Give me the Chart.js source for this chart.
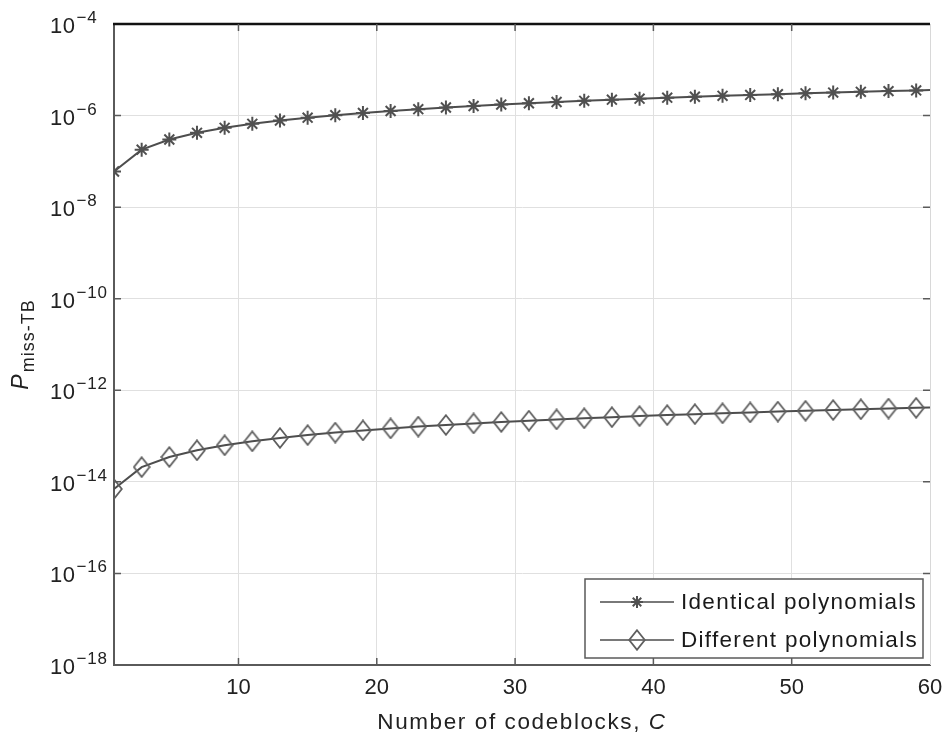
<!DOCTYPE html>
<html>
<head>
<meta charset="utf-8">
<script src="https://cdn.jsdelivr.net/npm/chart.js@4.4.1/dist/chart.umd.min.js"></script>
<style>
  html, body { margin: 0; padding: 0; background: #ffffff; }
  #wrap { width: 945px; height: 740px; }
</style>
</head>
<body>
<div id="wrap"><canvas id="c" width="945" height="740"></canvas></div>
<script>
// ---- data ----
const codeblocks = [1, 3, 5, 7, 9, 11, 13, 15, 17, 19, 21, 23, 25, 27, 29, 31, 33, 35, 37, 39, 41, 43, 45, 47, 49, 51, 53, 55, 57, 59, 60];
const identicalPoly = [6.0e-8, 1.8e-7, 3.0e-7, 4.2e-7, 5.4e-7, 6.6e-7, 7.8e-7, 9.0e-7, 1.02e-6, 1.14e-6,
  1.26e-6, 1.38e-6, 1.5e-6, 1.62e-6, 1.74e-6, 1.86e-6, 1.98e-6, 2.1e-6, 2.22e-6, 2.34e-6,
  2.46e-6, 2.58e-6, 2.7e-6, 2.82e-6, 2.94e-6, 3.06e-6, 3.18e-6, 3.3e-6, 3.42e-6, 3.54e-6, 3.6e-6];
const differentPoly = [7.0e-15, 2.1e-14, 3.5e-14, 4.9e-14, 6.3e-14, 7.7e-14, 9.1e-14, 1.05e-13, 1.19e-13, 1.33e-13,
  1.47e-13, 1.61e-13, 1.75e-13, 1.89e-13, 2.03e-13, 2.17e-13, 2.31e-13, 2.45e-13, 2.59e-13, 2.73e-13,
  2.87e-13, 3.01e-13, 3.15e-13, 3.29e-13, 3.43e-13, 3.57e-13, 3.71e-13, 3.85e-13, 3.99e-13, 4.13e-13, 4.2e-13];
const markerShown = [1, 1, 1, 1, 1, 1, 1, 1, 1, 1, 1, 1, 1, 1, 1, 1, 1, 1, 1, 1, 1, 1, 1, 1, 1, 1, 1, 1, 1, 1, 0];
const seriesNames = ['Identical polynomials', 'Different polynomials'];
const xTicks = [10, 20, 30, 40, 50, 60];
const yExponents = [-18, -16, -14, -12, -10, -8, -6, -4];
const xTitle = 'Number of codeblocks, ';
const xTitleItalic = 'C';
const yTitleMain = 'P';
const yTitleSub = 'miss-TB';

// ---- styles ----
const FONT = '"Liberation Sans", Arial, Helvetica, sans-serif';
const LINE_COLOR = '#4d4d4d';
const MARK_COLOR = '#505050';
const GRID_COLOR = '#e0e0e0';
const AXIS_COLOR = '#5a5a5a';

// tall diamond marker
function makeDiamond(w, h, color, lw) {
  const cv = document.createElement('canvas');
  cv.width = w; cv.height = h;
  const c = cv.getContext('2d');
  c.strokeStyle = color; c.lineWidth = lw;
  c.beginPath();
  c.moveTo(w / 2, 1.2);
  c.lineTo(w - 1.2, h / 2);
  c.lineTo(w / 2, h - 1.2);
  c.lineTo(1.2, h / 2);
  c.closePath();
  c.stroke();
  return cv;
}
const diamondImg = makeDiamond(18, 22, '#5f5f5f', 1.8);

const ptsIdentical = codeblocks.map((x, i) => ({ x: x, y: identicalPoly[i] }));
const ptsDifferent = codeblocks.map((x, i) => ({ x: x, y: differentPoly[i] }));

const decorations = {
  id: 'decorations',
  afterDraw(chart) {
    const ctx = chart.ctx;
    const area = chart.chartArea;
    const xs = chart.scales.x, ys = chart.scales.y;
    ctx.save();

    // top border (black)
    ctx.strokeStyle = '#111111';
    ctx.lineWidth = 2.5;
    ctx.beginPath();
    ctx.moveTo(area.left - 1, area.top);
    ctx.lineTo(area.right, area.top);
    ctx.stroke();

    // right border
    ctx.strokeStyle = '#d8d8d8';
    ctx.lineWidth = 1;
    ctx.beginPath();
    ctx.moveTo(area.right + 0.5, area.top);
    ctx.lineTo(area.right + 0.5, area.bottom);
    ctx.stroke();

    // inward tick marks
    ctx.strokeStyle = AXIS_COLOR;
    ctx.lineWidth = 1.5;
    const tl = 7;
    xTicks.forEach(v => {
      const px = xs.getPixelForValue(v);
      if (v >= 60) return;
      ctx.beginPath();
      ctx.moveTo(px, area.bottom); ctx.lineTo(px, area.bottom - tl);
      ctx.moveTo(px, area.top); ctx.lineTo(px, area.top + tl);
      ctx.stroke();
    });
    yExponents.forEach(e => {
      const py = ys.getPixelForValue(Math.pow(10, e));
      if (e === -18 || e === -4) return;
      ctx.beginPath();
      ctx.moveTo(area.left, py); ctx.lineTo(area.left + tl, py);
      ctx.moveTo(area.right, py); ctx.lineTo(area.right - tl, py);
      ctx.stroke();
    });

    // y tick labels 10^e
    ctx.fillStyle = '#222222';
    ctx.textAlign = 'left';
    ctx.textBaseline = 'alphabetic';
    yExponents.forEach(e => {
      const py = ys.getPixelForValue(Math.pow(10, e));
      ctx.font = '22px ' + FONT;
      ctx.letterSpacing = '0.5px';
      ctx.fillText('10', 50, py + 9);
      const w = ctx.measureText('10').width;
      ctx.font = '17px ' + FONT;
      ctx.letterSpacing = '0.8px';
      ctx.fillText('\u2212' + Math.abs(e), 50 + w + 1, py - 1);
    });

    // x title
    ctx.letterSpacing = '1.6px';
    ctx.font = '22.5px ' + FONT;
    const w1 = ctx.measureText(xTitle).width;
    ctx.font = 'italic 22.5px ' + FONT;
    const w2 = ctx.measureText(xTitleItalic).width;
    const cx = (area.left + area.right) / 2;
    let sx = cx - (w1 + w2) / 2;
    ctx.fillStyle = '#222222';
    ctx.textAlign = 'left';
    ctx.font = '22.5px ' + FONT;
    ctx.fillText(xTitle, sx, 729);
    ctx.font = 'italic 22.5px ' + FONT;
    ctx.fillText(xTitleItalic, sx + w1, 729);

    // y title (rotated)
    ctx.save();
    const cy = (area.top + area.bottom) / 2;
    ctx.translate(28, cy);
    ctx.rotate(-Math.PI / 2);
    ctx.font = 'italic 23px ' + FONT;
    ctx.letterSpacing = '0px';
    const pw = ctx.measureText(yTitleMain).width;
    ctx.font = '18px ' + FONT;
    ctx.letterSpacing = '1px';
    const sw = ctx.measureText(yTitleSub).width;
    const start = -(pw + sw + 2) / 2;
    ctx.font = 'italic 23px ' + FONT;
    ctx.letterSpacing = '0px';
    ctx.fillText(yTitleMain, start, 0);
    ctx.font = '18px ' + FONT;
    ctx.letterSpacing = '1px';
    ctx.fillText(yTitleSub, start + pw + 2, 6);
    ctx.restore();

    // legend
    const lx = 585, ly = 579, lw = 338, lh = 79;
    ctx.fillStyle = '#ffffff';
    ctx.fillRect(lx, ly, lw, lh);
    ctx.strokeStyle = '#5a5a5a';
    ctx.lineWidth = 1.5;
    ctx.strokeRect(lx, ly, lw, lh);
    const rows = [602, 640];
    chart.data.datasets.forEach((ds, i) => {
      const y = rows[i];
      ctx.strokeStyle = ds.borderColor;
      ctx.lineWidth = 1.5;
      ctx.beginPath();
      ctx.moveTo(600, y); ctx.lineTo(674, y);
      ctx.stroke();
      ctx.save();
      ctx.strokeStyle = ds.pointBorderColor;
      ctx.lineWidth = ds.pointBorderWidth;
      Chart.helpers.drawPoint(ctx, {
        pointStyle: ds.pointStyle,
        radius: 6,
        rotation: 0,
        borderWidth: ds.pointBorderWidth
      }, 637, y);
      ctx.restore();
      ctx.fillStyle = '#1a1a1a';
      ctx.font = '22.5px ' + FONT;
      ctx.letterSpacing = '1.3px';
      ctx.textBaseline = 'middle';
      ctx.fillText(ds.label, 681, y + 1);
      ctx.textBaseline = 'alphabetic';
    });

    ctx.restore();
  }
};

new Chart(document.getElementById('c'), {
  type: 'line',
  data: {
    datasets: [
      {
        label: seriesNames[0],
        data: ptsIdentical,
        borderColor: LINE_COLOR,
        borderWidth: 2,
        pointStyle: 'star',
        pointRadius: markerShown.map(m => m * 7),
        pointBorderColor: MARK_COLOR,
        pointBorderWidth: 2,
        pointBackgroundColor: 'rgba(0,0,0,0)',
        tension: 0,
        fill: false
      },
      {
        label: seriesNames[1],
        data: ptsDifferent,
        borderColor: LINE_COLOR,
        borderWidth: 2,
        pointStyle: diamondImg,
        pointRadius: markerShown.map(m => m * 8),
        pointBorderColor: MARK_COLOR,
        pointBorderWidth: 1.6,
        pointBackgroundColor: 'rgba(0,0,0,0)',
        tension: 0,
        fill: false
      }
    ]
  },
  options: {
    responsive: false,
    animation: false,
    devicePixelRatio: 1,
    layout: { padding: { left: 0, right: 15, top: 24, bottom: 0 } },
    plugins: {
      legend: { display: false },
      tooltip: { enabled: false },
      title: { display: false }
    },
    scales: {
      x: {
        type: 'linear',
        min: 1,
        max: 60,
        afterBuildTicks: s => { s.ticks = xTicks.map(v => ({ value: v })); },
        afterFit: s => { s.height = 75; s.paddingRight = 0; s.paddingLeft = 0; },
        grid: { color: GRID_COLOR, lineWidth: 1, drawTicks: false },
        border: { color: AXIS_COLOR, width: 2 },
        ticks: {
          color: '#222222',
          font: { family: FONT, size: 22 },
          padding: 10,
          maxRotation: 0,
          autoSkip: false
        }
      },
      y: {
        type: 'logarithmic',
        min: 1e-18,
        max: 1e-4,
        afterBuildTicks: s => { s.ticks = yExponents.map(e => ({ value: Math.pow(10, e) })); },
        afterFit: s => { s.width = 114; },
        grid: { color: GRID_COLOR, lineWidth: 1, drawTicks: false },
        border: { color: AXIS_COLOR, width: 2 },
        ticks: { display: false }
      }
    }
  },
  plugins: [decorations]
});
</script>
</body>
</html>
